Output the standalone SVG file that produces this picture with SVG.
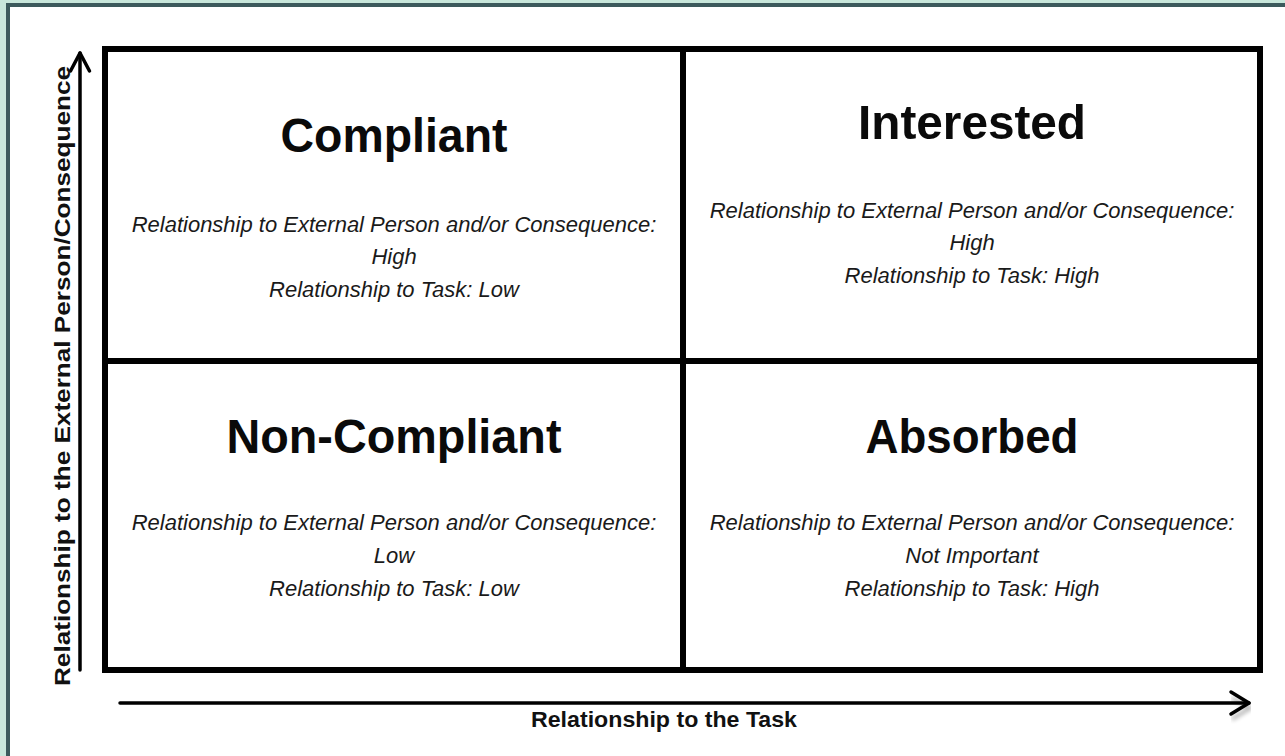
<svg xmlns="http://www.w3.org/2000/svg" width="1285" height="756" viewBox="0 0 1285 756">
  <style>
    .title { font-family: "Liberation Sans", Arial, sans-serif; font-weight: bold; font-size: 49px; fill: #0a0a0a; text-anchor: middle; }
    .desc { font-family: "Liberation Sans", Arial, sans-serif; font-style: italic; font-size: 22px; fill: #1a1a1a; text-anchor: middle; }
    .axis-label { font-family: "Liberation Sans", Arial, sans-serif; font-weight: bold; font-size: 22px; fill: #111; text-anchor: middle; }
    .grid { fill: none; stroke: #000; stroke-width: 6; }
    .axis { fill: none; stroke: #000; stroke-width: 3.5; stroke-linecap: round; stroke-linejoin: round; }
    .axis-shadow { fill: none; stroke: #000; stroke-width: 4; opacity: 0.28; filter: url(#soft); }
  </style>
  <defs>
    <filter id="soft" x="-5%" y="-50%" width="110%" height="200%">
      <feGaussianBlur stdDeviation="2"/>
    </filter>
  </defs>

  <!-- page frame -->
  <rect x="0" y="0" width="1285" height="756" fill="#c8e7db"/>
  <rect x="6" y="3" width="1290" height="760" fill="#3c5a5c"/>
  <rect x="10" y="7" width="1290" height="760" fill="#ffffff"/>

  <!-- quadrant grid -->
  <g id="grid">
    <rect class="grid" x="105" y="49" width="1155" height="621"/>
    <line class="grid" x1="683" y1="49" x2="683" y2="670"/>
    <line class="grid" x1="105" y1="361" x2="1260" y2="361"/>
  </g>

  <!-- axes -->
  <g id="connectors">
    <g id="x-axis-shadow">
      <line class="axis-shadow" x1="122" y1="708" x2="1248" y2="708"/>
      <polyline class="axis-shadow" points="1232,698 1250,708 1232,719"/>
    </g>
    <g id="y-axis">
      <line class="axis" x1="80" y1="670" x2="80" y2="53"/>
      <polyline class="axis" points="70.5,71 80,53 89.5,71"/>
    </g>
    <g id="x-axis">
      <line class="axis" x1="120" y1="703" x2="1249" y2="703"/>
      <polyline class="axis" points="1231,692 1249,703 1231,714"/>
    </g>
  </g>

  <!-- axis labels -->
  <g id="label-y">
    <text class="axis-label" transform="translate(70 376) rotate(-90)" textLength="620" lengthAdjust="spacingAndGlyphs">Relationship to the External Person/Consequence</text>
  </g>
  <g id="label-x">
    <text class="axis-label" x="664" y="727" textLength="266" lengthAdjust="spacingAndGlyphs">Relationship to the Task</text>
  </g>

  <!-- quadrants -->
  <g id="compliant">
    <text class="title" x="394" y="152" textLength="227" lengthAdjust="spacingAndGlyphs">Compliant</text>
    <text class="desc" x="394" y="232">Relationship to External Person and/or Consequence:</text>
    <text class="desc" x="394" y="264">High</text>
    <text class="desc" x="394" y="297">Relationship to Task: Low</text>
  </g>
  <g id="interested">
    <text class="title" x="972" y="139" textLength="228" lengthAdjust="spacingAndGlyphs">Interested</text>
    <text class="desc" x="972" y="218">Relationship to External Person and/or Consequence:</text>
    <text class="desc" x="972" y="250">High</text>
    <text class="desc" x="972" y="283">Relationship to Task: High</text>
  </g>
  <g id="non-compliant">
    <text class="title" x="394" y="453" textLength="335" lengthAdjust="spacingAndGlyphs">Non-Compliant</text>
    <text class="desc" x="394" y="530">Relationship to External Person and/or Consequence:</text>
    <text class="desc" x="394" y="563">Low</text>
    <text class="desc" x="394" y="596">Relationship to Task: Low</text>
  </g>
  <g id="absorbed">
    <text class="title" x="972" y="453" textLength="213" lengthAdjust="spacingAndGlyphs">Absorbed</text>
    <text class="desc" x="972" y="530">Relationship to External Person and/or Consequence:</text>
    <text class="desc" x="972" y="563">Not Important</text>
    <text class="desc" x="972" y="596">Relationship to Task: High</text>
  </g>
</svg>
